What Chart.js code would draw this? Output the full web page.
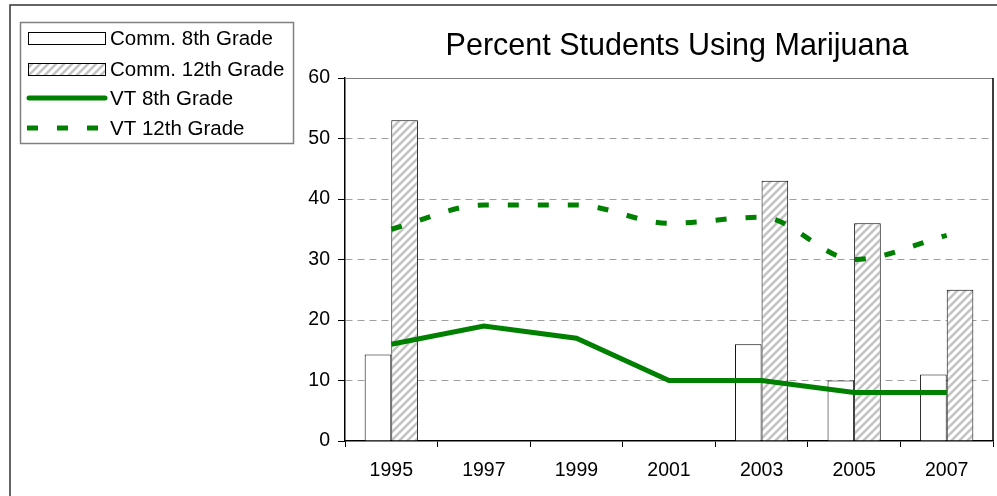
<!DOCTYPE html>
<html>
<head>
<meta charset="utf-8">
<script src="https://cdn.jsdelivr.net/npm/chart.js@4/dist/chart.umd.min.js"></script>
<style>
  body { margin: 0; background: #fff; }
  canvas { display: block; }
</style>
</head>
<body>
<canvas id="myChart" width="997" height="496"></canvas>
<script>
let years = ['1995', '1997', '1999', '2001', '2003', '2005', '2007'];
let comm8 = [14.3, null, null, null, 16, 10, 11];
let comm12 = [53, null, null, null, 43, 36, 25];
let vt8 = [16, 19, 17, 10, 10, 8, 8];
let vt12 = [35, 39, 39, 36, 37, 30, 34];
let yTicks = [0, 10, 20, 30, 40, 50, 60];
let chartTitle = 'Percent Students Using Marijuana';

const FONT = "'Liberation Sans', Arial, sans-serif";
const GREEN = '#008000';

function makeHatch() {
    let c = document.createElement('canvas');
    c.width = 8;
    c.height = 8;
    let g = c.getContext('2d');
    g.fillStyle = '#fff';
    g.fillRect(0, 0, 8, 8);
    g.strokeStyle = '#c4c4c4';
    g.lineWidth = 2.6;
    g.beginPath();
    g.moveTo(-2, 10); g.lineTo(10, -2);
    g.moveTo(-2, 2); g.lineTo(2, -2);
    g.moveTo(6, 10); g.lineTo(10, 6);
    g.stroke();
    return g.createPattern(c, 'repeat');
}

let hatch = makeHatch();

// frame, plot border, title and legend box
const decorations = {
    id: 'decorations',
    afterDraw(chart) {
        let ctx = chart.ctx;
        let area = chart.chartArea;
        ctx.save();

        // outer frame
        ctx.strokeStyle = '#333';
        ctx.lineWidth = 1.5;
        ctx.beginPath();
        ctx.moveTo(10, 497);
        ctx.lineTo(10, 5);
        ctx.lineTo(998, 5);
        ctx.stroke();

        // plot border top + right
        ctx.strokeStyle = '#808080';
        ctx.lineWidth = 1;
        ctx.beginPath();
        ctx.moveTo(area.left, area.top + 0.5);
        ctx.lineTo(area.right, area.top + 0.5);
        ctx.stroke();
        ctx.strokeStyle = '#000';
        ctx.lineWidth = 1.5;
        ctx.beginPath();
        ctx.moveTo(area.right, area.top);
        ctx.lineTo(area.right, area.bottom);
        ctx.stroke();

        // title
        ctx.fillStyle = '#000';
        ctx.font = '30.5px ' + FONT;
        ctx.textAlign = 'center';
        ctx.textBaseline = 'alphabetic';
        ctx.fillText(chartTitle, (area.left + area.right) / 2 + 8, 55);

        // legend
        ctx.strokeStyle = '#808080';
        ctx.lineWidth = 1.5;
        ctx.strokeRect(20.5, 22.5, 273, 121);

        let rows = [38, 69, 98, 128];
        ctx.font = '20.5px ' + FONT;
        ctx.textAlign = 'left';
        ctx.textBaseline = 'middle';
        chart.data.datasets.forEach((ds, i) => {
            let y = rows[i];
            if (ds.type === 'bar') {
                ctx.fillStyle = ds.backgroundColor;
                ctx.fillRect(28, y - 6, 78, 13);
                ctx.strokeStyle = '#000';
                ctx.lineWidth = 1;
                ctx.strokeRect(28.5, y - 5.5, 77, 12);
            } else {
                ctx.strokeStyle = ds.borderColor;
                ctx.lineWidth = 5;
                ctx.setLineDash(ds.borderDash || []);
                ctx.lineCap = ds.borderDash ? 'butt' : 'round';
                ctx.beginPath();
                ctx.moveTo(ds.borderDash ? 27 : 29, y);
                ctx.lineTo(ds.borderDash ? 103 : 105, y);
                ctx.stroke();
                ctx.setLineDash([]);
            }
            ctx.fillStyle = '#000';
            ctx.fillText(ds.label, 110, y + 1);
        });

        ctx.restore();
    }
};

let ctx = document.getElementById('myChart');

new Chart(ctx, {
    data: {
        labels: years,
        datasets: [
            {
                type: 'bar',
                label: 'Comm. 8th Grade',
                data: comm8,
                backgroundColor: '#fff',
                borderColor: '#000',
                borderWidth: 1,
                order: 1
            },
            {
                type: 'bar',
                label: 'Comm. 12th Grade',
                data: comm12,
                backgroundColor: hatch,
                borderColor: '#000',
                borderWidth: 1,
                order: 1
            },
            {
                type: 'line',
                label: 'VT 8th Grade',
                data: vt8,
                borderColor: GREEN,
                borderWidth: 5,
                pointRadius: 0,
                tension: 0,
                fill: false,
                order: 0
            },
            {
                type: 'line',
                label: 'VT 12th Grade',
                data: vt12,
                borderColor: GREEN,
                borderWidth: 5,
                borderDash: [11, 19],
                pointRadius: 0,
                cubicInterpolationMode: 'monotone',
                fill: false,
                order: 0
            }
        ]
    },
    options: {
        responsive: false,
        animation: false,
        devicePixelRatio: 1,
        layout: {
            padding: { left: 0, right: 4, top: 78, bottom: 0 }
        },
        datasets: {
            bar: {
                categoryPercentage: 0.575,
                barPercentage: 1
            }
        },
        plugins: {
            legend: { display: false },
            title: { display: false },
            tooltip: { enabled: false }
        },
        scales: {
            x: {
                offset: true,
                grid: {
                    offset: true,
                    drawOnChartArea: false,
                    tickLength: 6,
                    tickColor: '#000'
                },
                border: { color: '#000', width: 1.5 },
                ticks: {
                    color: '#000',
                    padding: 12,
                    font: { family: FONT, size: 19.5 }
                },
                afterFit(scale) {
                    scale.height = 55;
                }
            },
            y: {
                min: 0,
                max: 60,
                afterBuildTicks(scale) {
                    scale.ticks = yTicks.map(v => ({ value: v }));
                },
                grid: {
                    color: (c) => (c.tick && (c.tick.value === 0 || c.tick.value === 60)) ? 'rgba(0,0,0,0)' : '#a0a0a0',
                    tickColor: '#000',
                    tickLength: 7,
                    tickBorderDash: []
                },
                border: { color: '#000', width: 1.5, dash: [7, 5] },
                ticks: {
                    color: '#000',
                    padding: 8,
                    font: { family: FONT, size: 19.5 }
                },
                afterFit(scale) {
                    scale.width = 345;
                }
            }
        }
    },
    plugins: [decorations]
});
</script>
</body>
</html>
